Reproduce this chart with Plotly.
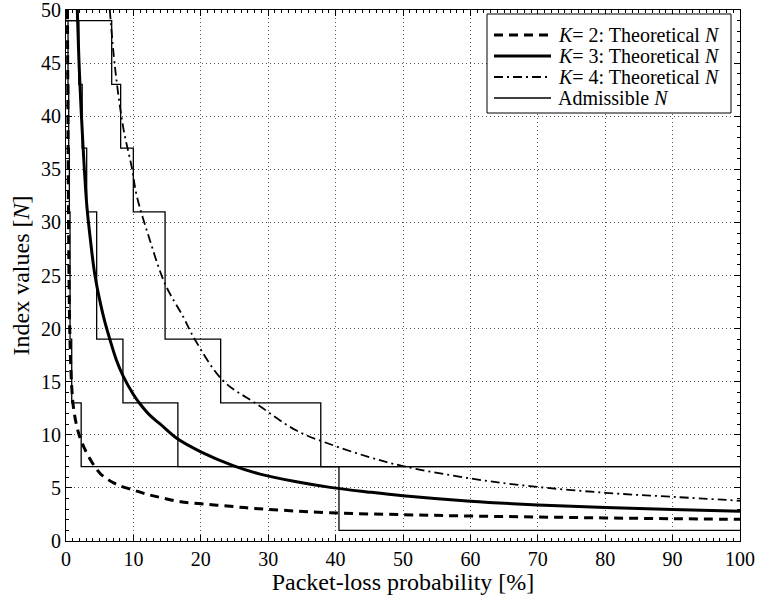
import plotly.graph_objects as go

# Theoretical N curves
k2_x = [0.22, 0.3, 0.4, 0.5, 0.65, 0.85, 1.1, 1.6, 2.1, 2.6, 3.5, 4.5, 5.5, 7, 8, 10, 12, 14, 17, 21, 25, 28, 32, 39, 50, 60, 70, 80, 90, 100]
k2_y = [50, 38, 28, 22, 17.5, 14.5, 12.6, 10.8, 9.7, 8.9, 7.8, 6.8, 6.1, 5.5, 5.2, 4.8, 4.4, 4.1, 3.7, 3.45, 3.23, 3.07, 2.9, 2.66, 2.48, 2.35, 2.26, 2.17, 2.1, 2.04]

k3_x = [1.68, 2.0, 2.5, 3.1, 3.6, 4.3, 5.5, 6.5, 7.5, 8.5, 10, 11, 12.5, 14, 16.6, 20, 24.8, 28.8, 34, 39.2, 45, 50, 60, 70, 80, 90, 100]
k3_y = [50, 44, 37.5, 31.5, 28.5, 25, 21.3, 19, 17, 15.5, 13.8, 12.9, 11.8, 11, 9.6, 8.4, 7.1, 6.3, 5.6, 5.05, 4.6, 4.26, 3.75, 3.4, 3.15, 2.97, 2.8]

k4_x = [6.5, 7.27, 8.5, 9.75, 10.5, 12.46, 14.7, 17.4, 19.1, 23.3, 28.3, 34.2, 39.7, 45, 50, 59.9, 68.8, 80, 90, 100]
k4_y = [50, 44.6, 38.9, 35.2, 32.5, 28.3, 24.2, 21.1, 19, 15.1, 12.9, 10.4, 9.0, 7.9, 7.05, 5.9, 5.17, 4.54, 4.16, 3.79]

# Admissible N staircases (value holds from x[i] to x[i+1])
adm2_x = [0, 0.3, 0.4, 0.5, 0.6, 0.85, 2.25, 40.5, 100]
adm2_y = [49, 43, 37, 31, 19, 13, 7, 1, 1]
adm3_x = [0, 1.9, 2.4, 3.07, 4.55, 8.45, 16.6, 100]
adm3_y = [49, 43, 37, 31, 19, 13, 7, 7]
adm4_x = [0, 6.78, 8.11, 9.99, 14.7, 22.95, 37.8, 100]
adm4_y = [49, 43, 37, 31, 19, 13, 7, 7]

x_ticks = list(range(0, 101, 10))
y_ticks = list(range(0, 51, 5))

legend_labels = ["<i>K</i>= 2: Theoretical <i>N</i>", "<i>K</i>= 3: Theoretical <i>N</i>",
                 "<i>K</i>= 4: Theoretical <i>N</i>", "Admissible <i>N</i>"]

FONT = "Liberation Serif"
W, H = 757, 595
ML, MR, MT, MB = 66, 17, 10, 54
PW, PH = W - ML - MR, H - MT - MB

styles = [
    dict(color="black", width=3, dash="9px,6px"),
    dict(color="black", width=3, dash="solid"),
    dict(color="black", width=1.8, dash="9px,4px,2px,4px"),
    dict(color="black", width=1.3, dash="solid"),
]

fig = go.Figure()
for (cx, cy), st, nm in zip([(k2_x, k2_y), (k3_x, k3_y), (k4_x, k4_y)], styles[:3], legend_labels[:3]):
    fig.add_trace(go.Scatter(x=cx, y=cy, mode="lines", name=nm,
                             line=dict(shape="spline", smoothing=1.0, **st)))
for ax, ay in [(adm2_x, adm2_y), (adm3_x, adm3_y), (adm4_x, adm4_y)]:
    fig.add_trace(go.Scatter(x=ax, y=ay, mode="lines", name="Admissible N",
                             line=dict(shape="hv", **styles[3])))

axis_common = dict(
    showline=True, linecolor="black", linewidth=1, mirror="allticks",
    ticks="inside", ticklen=6, tickcolor="black",
    showgrid=True, gridcolor="#555", griddash="1px,3px", gridwidth=1,
    zeroline=False, tickfont=dict(family=FONT, size=20, color="black"),
    ticklabeloverflow="allow", automargin=False,
    minor=dict(ticks="inside", ticklen=3, tickcolor="black", dtick=1, showgrid=False),
)

fig.update_xaxes(range=[0, 100], tickvals=x_ticks, ticktext=[str(v) for v in x_ticks],
                 title=dict(text="Packet-loss probability [%]", font=dict(family=FONT, size=24, color="black"), standoff=0),
                 **axis_common)
fig.update_yaxes(range=[0, 50], tickvals=y_ticks, ticktext=[str(v) for v in y_ticks],
                 title=dict(text="Index values [<i>N</i>]", font=dict(family=FONT, size=24, color="black"), standoff=4),
                 **axis_common)

# Legend box drawn in paper coordinates (pixel layout converted)
def px(xp):
    return (xp - ML) / PW

def py(yp):
    return (H - MB - yp) / PH

box = (487, 14, 731, 113)
fig.add_shape(type="rect", xref="paper", yref="paper", x0=px(box[0]), x1=px(box[2]), y0=py(box[3]), y1=py(box[1]),
              line=dict(color="black", width=1), fillcolor="white", layer="above")
row_y = [35, 56, 77, 98]
for lbl, st, ry in zip(legend_labels, styles, row_y):
    fig.add_shape(type="line", xref="paper", yref="paper", x0=px(494), x1=px(551), y0=py(ry), y1=py(ry),
                  line=st, layer="above")
    fig.add_annotation(xref="paper", yref="paper", x=px(556), y=py(ry), text=lbl, showarrow=False,
                       xanchor="left", yanchor="middle", font=dict(family=FONT, size=20, color="black"))

fig.update_layout(
    width=W, height=H,
    margin=dict(l=ML, r=MR, t=MT, b=MB),
    plot_bgcolor="white", paper_bgcolor="white",
    font=dict(family=FONT, color="black"),
    showlegend=False,
    hovermode=False,
)

fig.write_html("out.html")
